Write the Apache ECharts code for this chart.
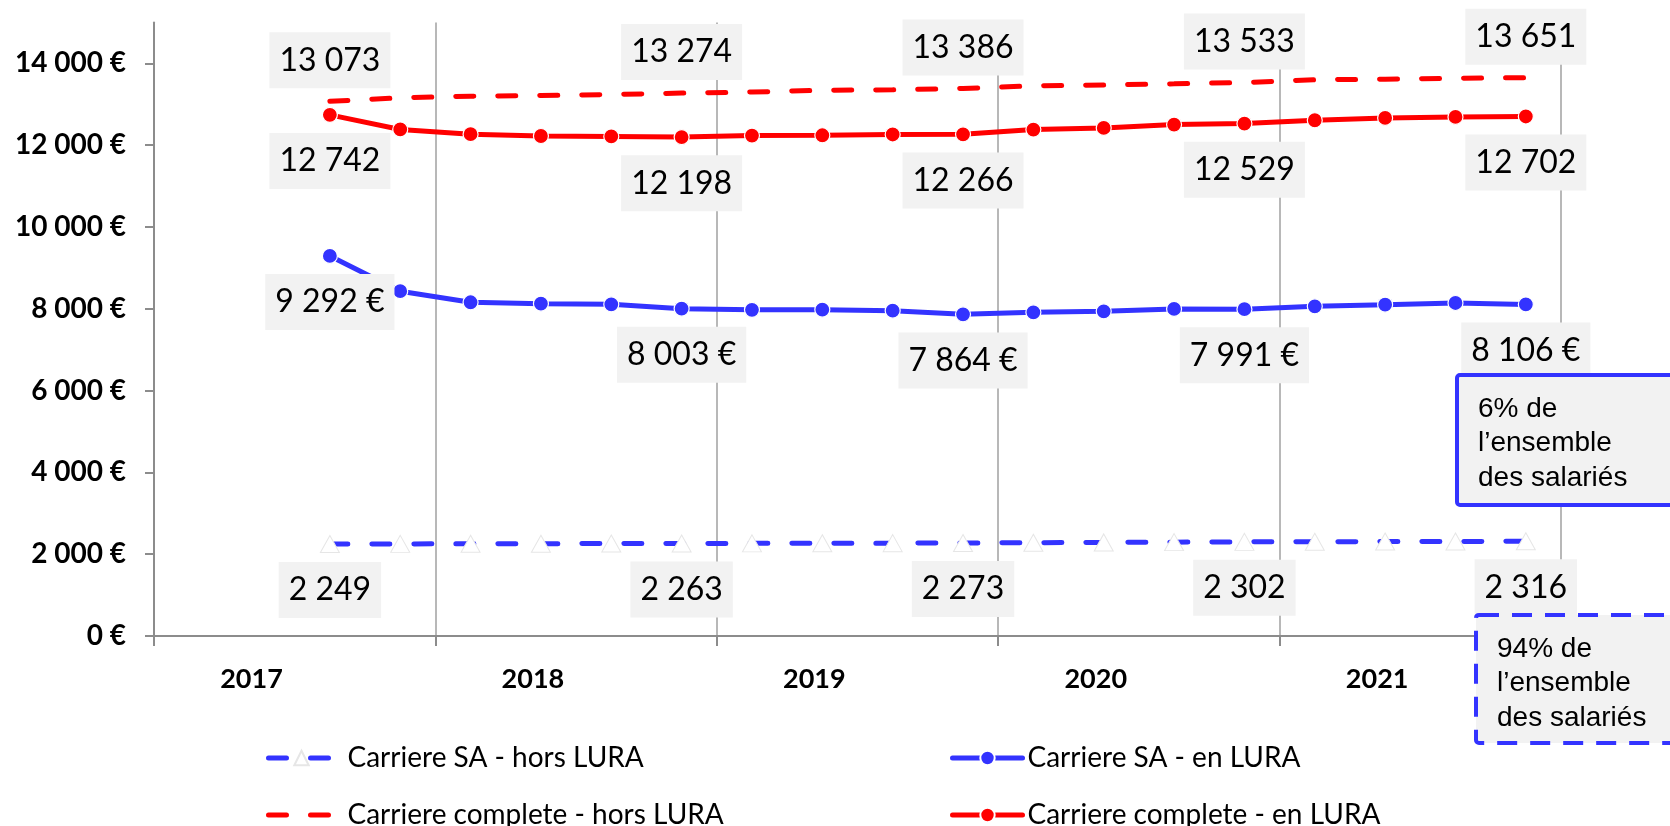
<!DOCTYPE html>
<html>
<head>
<meta charset="utf-8">
<script src="https://cdn.jsdelivr.net/npm/echarts@6/dist/echarts.min.js"></script>
<style>
  html, body { margin: 0; padding: 0; background: #fff; }
  #chart { width: 1670px; height: 826px; }
</style>
</head>
<body>
<div id="chart"></div>
<script>
// Quarterly axis: four quarters per year, year shown once per group
const years = ['2017', '2018', '2019', '2020', '2021'];
const quarters = ['T1', 'T2', 'T3', 'T4'];
const yTicks = [0, 2000, 4000, 6000, 8000, 10000, 12000, 14000];

// Series values (€), first two quarters of 2017 are empty
const carriereSAHors = [null, null, 2249, 2252, 2254, 2257, 2260, 2263, 2265, 2268, 2270, 2273, 2281, 2288, 2295, 2302, 2305, 2309, 2312, 2316];
const carriereSAEn = [null, null, 9292, 8430, 8160, 8125, 8110, 8003, 7975, 7978, 7954, 7864, 7915, 7939, 7996, 7991, 8061, 8101, 8142, 8106];
const carriereCompleteHors = [null, null, 13073, 13158, 13199, 13215, 13240, 13274, 13300, 13342, 13354, 13386, 13452, 13472, 13501, 13533, 13600, 13615, 13635, 13651];
const carriereCompleteEn = [null, null, 12742, 12385, 12270, 12225, 12215, 12198, 12235, 12243, 12262, 12266, 12382, 12423, 12504, 12529, 12610, 12668, 12692, 12702];

// Quarters whose value is written next to the point
const labeledPoints = [2, 7, 11, 15, 19];

const categories = years.flatMap(y => quarters.map(q => y + ' ' + q));

const BLUE = '#3333FF';
const RED = '#FF0000';
const GRAY = '#8C8C8C';

function fmt(v) {
  return String(v).replace(/\B(?=(\d{3})+(?!\d))/g, ' ');
}

function withLabels(values, labelOpt) {
  return values.map((v, i) =>
    labeledPoints.includes(i) && v != null ? { value: v, label: Object.assign({ show: true }, labelOpt) } : v
  );
}

const labelBase = {
  fontFamily: 'Lato',
  fontSize: 32,
  lineHeight: 34,
  color: '#000',
  backgroundColor: '#F2F2F2',
  padding: [11, 10, 11, 10]
};

const legendText = { fontFamily: 'Lato', fontSize: 28, lineHeight: 28, color: '#000' };
const legendLine = { width: 5, cap: 'round' };
const legendCommon = {
  orient: 'vertical',
  top: 744,
  height: 90,
  padding: 0,
  itemHeight: 18,
  itemGap: 29,
  lineStyle: legendLine
};

const chart = echarts.init(document.getElementById('chart'), null, { renderer: 'canvas' });

chart.setOption({
  animation: false,
  backgroundColor: '#fff',
  grid: { left: 154, right: 109, top: 22.5, bottom: 190, containLabel: false },
  xAxis: {
    type: 'category',
    data: categories,
    boundaryGap: true,
    axisLine: { show: true, lineStyle: { color: GRAY, width: 2 } },
    axisTick: {
      show: true,
      length: 10,
      interval: (i) => i % 4 === 0,
      lineStyle: { color: GRAY, width: 2 }
    },
    splitLine: {
      show: true,
      interval: (i) => i % 4 === 0,
      lineStyle: { color: '#A0A0A0', width: 1.5 }
    },
    axisLabel: {
      interval: (i) => i % 4 === 1,
      formatter: (v) => v.split(' ')[0],
      fontFamily: 'Lato',
      fontWeight: 'bold',
      fontSize: 27,
      color: '#000',
      margin: 30,
      padding: [0, 16, 0, 0]
    }
  },
  yAxis: {
    type: 'value',
    min: 0,
    max: 15000,
    interval: 2000,
    axisLine: { show: true, lineStyle: { color: GRAY, width: 2 } },
    axisTick: {
      show: true,
      length: 9,
      customValues: yTicks,
      lineStyle: { color: GRAY, width: 2 }
    },
    splitLine: { show: false },
    axisLabel: {
      customValues: yTicks,
      formatter: (v) => fmt(v) + ' €',
      fontFamily: 'Lato',
      fontWeight: 'bold',
      fontSize: 28,
      color: '#000',
      margin: 28
    }
  },
  legend: [
    Object.assign({}, legendCommon, {
      left: 266,
      itemWidth: 66,
      textStyle: Object.assign({ padding: [0, 0, 0, 8] }, legendText),
      data: ['Carriere SA - hors LURA', 'Carriere complete - hors LURA']
    }),
    Object.assign({}, legendCommon, {
      left: 950,
      itemWidth: 70,
      textStyle: legendText,
      data: ['Carriere SA - en LURA', 'Carriere complete - en LURA']
    })
  ],
  series: [
    {
      name: 'Carriere complete - hors LURA',
      type: 'line',
      data: withLabels(carriereCompleteHors, { position: 'top', distance: 12, formatter: (p) => fmt(p.value) }),
      symbol: 'circle',
      symbolSize: 2,
      itemStyle: { color: 'rgba(255,0,0,0)' },
      lineStyle: { color: RED, width: 5, type: [18, 24], cap: 'round' },
      label: labelBase,
      z: 3
    },
    {
      name: 'Carriere complete - en LURA',
      type: 'line',
      data: withLabels(carriereCompleteEn, { position: 'bottom', distance: 10, formatter: (p) => fmt(p.value) }),
      symbol: 'circle',
      symbolSize: 15,
      itemStyle: { color: RED, borderColor: '#fff', borderWidth: 1.2 },
      lineStyle: { color: RED, width: 5 },
      label: labelBase,
      z: 4
    },
    {
      name: 'Carriere SA - en LURA',
      type: 'line',
      data: withLabels(carriereSAEn, { position: 'bottom', distance: 10, formatter: (p) => fmt(p.value) + ' €' }),
      symbol: 'circle',
      symbolSize: 15,
      itemStyle: { color: BLUE, borderColor: '#fff', borderWidth: 1.2 },
      lineStyle: { color: BLUE, width: 5 },
      label: labelBase,
      z: 4
    },
    {
      name: 'Carriere SA - hors LURA',
      type: 'line',
      data: withLabels(carriereSAHors, { position: 'bottom', distance: 9, formatter: (p) => fmt(p.value) }),
      symbol: 'triangle',
      symbolSize: [19, 17],
      itemStyle: { color: '#fff', borderColor: '#E6E6E6', borderWidth: 1 },
      lineStyle: { color: BLUE, width: 5, type: [18, 24], cap: 'round' },
      label: labelBase,
      z: 3
    }
  ],
  graphic: [
    {
      type: 'rect',
      z: 100,
      shape: { x: 1457, y: 375, width: 260, height: 130, r: 3 },
      style: { fill: '#F2F2F2', stroke: BLUE, lineWidth: 4 }
    },
    {
      type: 'text',
      z: 101,
      x: 1478,
      y: 392,
      style: {
        text: '6% de\nl’ensemble\ndes salariés',
        fontFamily: 'Liberation Sans',
        fontSize: 28,
        lineHeight: 34.5,
        fill: '#000'
      }
    },
    {
      type: 'rect',
      z: 100,
      shape: { x: 1476, y: 615, width: 240, height: 128, r: 3 },
      style: { fill: '#F2F2F2', stroke: BLUE, lineWidth: 4, lineDash: [20, 13] }
    },
    {
      type: 'text',
      z: 101,
      x: 1497,
      y: 632,
      style: {
        text: '94% de\nl’ensemble\ndes salariés',
        fontFamily: 'Liberation Sans',
        fontSize: 28,
        lineHeight: 34.5,
        fill: '#000'
      }
    }
  ]
});
</script>
</body>
</html>
